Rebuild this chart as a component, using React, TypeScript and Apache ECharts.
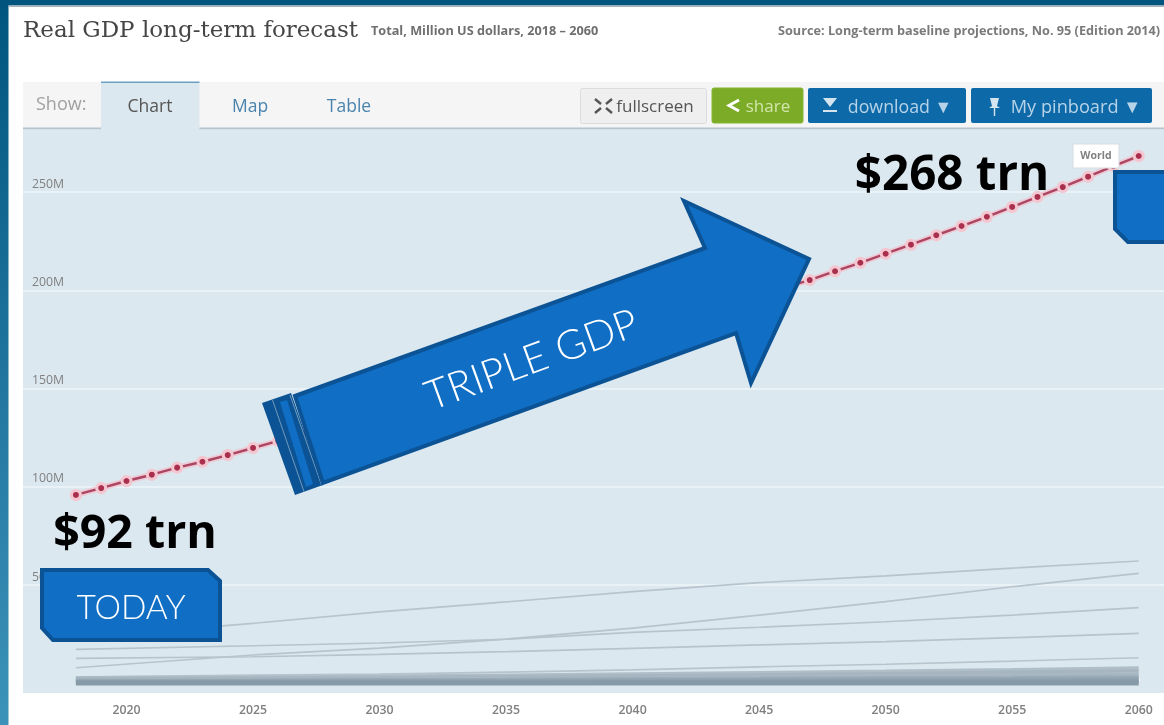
import React, { useEffect, useRef } from "react";
import * as echarts from "echarts";

const worldYears = [2018,2019,2020,2021,2022,2023,2024,2025,2026,2027,2028,2029,2030,2031,2032,2033,2034,2035,2036,2037,2038,2039,2040,2041,2042,2043,2044,2045,2046,2047,2048,2049,2050,2051,2052,2053,2054,2055,2056,2057,2058,2059,2060];
const worldValues = [95.9,99.4,103,106.2,109.8,112.8,116.2,119.8,123.4,127.1,130.8,134.6,138.4,142.2,146.1,150,153.9,157.9,161.9,165.9,169.9,173.9,178,182,186,190,194,197.8,201.5,205.2,209.7,214,218.6,223.2,228,232.7,237.4,242.4,247.5,252.5,257.8,263.2,268.3];

const otherYears = [2018,2025,2030,2035,2040,2045,2050,2055,2060];
const lineA = [23.2,30.6,36.4,41.5,46.7,51.3,54.7,58.7,62.3];
const lineB = [8,14.5,18,22.6,28.2,34.8,41.6,49.2,56];
const lineC = [17.4,19.2,20.6,22.5,26,28.6,31.4,34.8,38.6];
const lineD = [12.8,13.6,14.8,16.2,17.9,19.6,21.3,23.3,25.5];
const lineE = [3.3,4.3,4.8,5.8,6.9,8.5,9.8,11.4,13.1];
const bandA = [2.9,3.3,3.7,4.2,4.8,5.5,6.2,7,7.9];
const bandB = [2.4,2.7,3,3.4,3.9,4.4,5,5.7,6.4];
const bandC = [1.9,2.1,2.4,2.7,3,3.4,3.8,4.3,4.8];
const bandD = [1.5,1.7,1.9,2,2.3,2.5,2.8,3,3.3];
const bandE = [1.1,1.2,1.3,1.4,1.6,1.7,1.9,2.1,2.3];
const bandF = [0.7,0.7,0.8,0.8,0.9,1,1.1,1.2,1.3];
const bandG = [0.2,0.2,0.2,0.2,0.3,0.3,0.3,0.3,0.3];

const pairs = (xs: number[], ys: number[]) => xs.map((x, i) => [x, ys[i]]);
const FONT = '"Open Sans", sans-serif';
const FILL = "#106ec4";
const EDGE = "#0b5394";

const text = (t: string, x: number, y: number, font: string, fill: string, align = "left", z = 30, rotation = 0) => ({
  type: "text", x, y, z, rotation,
  style: { text: t, x: 0, y: 0, font, fill, textAlign: align, textVerticalAlign: "middle" },
});
const rect = (x: number, y: number, w: number, h: number, fill: string, z = 20, stroke?: string, r = 0, lineWidth = 1) => ({
  type: "rect", z, shape: { x, y, width: w, height: h, r },
  style: { fill, stroke, lineWidth },
});
const poly = (points: number[][], fill: string, z = 40, stroke?: string, lineWidth = 1) => ({
  type: "polygon", z, shape: { points }, style: { fill, stroke, lineWidth, lineJoin: "miter" },
});
const ln = (a: number[], b: number[], stroke: string, z = 41, lineWidth = 1) => ({
  type: "line", z, shape: { x1: a[0], y1: a[1], x2: b[0], y2: b[1] }, style: { stroke, lineWidth },
});

const thinSeries = [lineA, lineB, lineC, lineD, lineE].map((d) => ({
  type: "line", data: pairs(otherYears, d), showSymbol: false, symbol: "none", clip: false, z: 3,
  lineStyle: { color: "#b7c4cd", width: 1.7 },
}));
const bandColors = ["#b0bec8", "#a6b5c0", "#a8b7c2", "#99abb7", "#90a3b0", "#8a9dab", "#879aa8"];
const bandSeries = [bandA, bandB, bandC, bandD, bandE, bandF, bandG].map((d, i) => ({
  type: "line", data: pairs(otherYears, d), showSymbol: false, symbol: "none", clip: false, z: 4,
  lineStyle: { color: bandColors[i], width: i === 6 ? 5 : 3.4, cap: "butt" },
}));

export default function App() {
  const ref = useRef<HTMLDivElement>(null);
  useEffect(() => {
    document.body.style.margin = "0";
    const chart = echarts.init(ref.current!, null, { renderer: "svg" });
    const graphic: any[] = [
      rect(0, 0, 1164, 725, "#ffffff", -20),
      rect(23, 130, 1141, 563, "#dce8ef", -10),
      rect(8, 130, 15, 595, "#ffffff", 1),
      rect(23, 681.5, 1141, 4, "#dce8ef", 1),
      {
        type: "rect", z: 60, shape: { x: 0, y: 0, width: 8.5, height: 725 },
        style: { fill: new echarts.graphic.LinearGradient(0, 0, 0, 1, [
          { offset: 0, color: "#00557f" }, { offset: 1, color: "#3c93ba" },
        ]) },
      },
      rect(0, 0, 1164, 5.5, "#00557f", 61),
      rect(8.5, 5.5, 1156, 1.5, "#a9b4ba", 61),
      text("Real GDP long-term forecast", 23, 29, '23px "DejaVu Serif", serif', "#454545"),
      text("Total, Million US dollars, 2018 – 2060", 371, 30, `bold 12.7px ${FONT}`, "#6f6f6f"),
      text("Source: Long-term baseline projections, No. 95 (Edition 2014)", 778, 30, `bold 12.7px ${FONT}`, "#7a7a7a"),
      rect(23, 82, 1141, 46, "#f5f5f5", 10),
      rect(23, 127.5, 1141, 2, "#b4c4cf", 11),
      rect(101, 82, 98.5, 48, "#dce8ef", 12),
      rect(101, 81.5, 98.5, 1.6, "#6fa0bf", 13),
      text("Show:", 36, 103, `18px ${FONT}`, "#a0a0a0"),
      text("Chart", 150, 105, `17.5px ${FONT}`, "#555555", "center"),
      text("Map", 250, 105, `17.5px ${FONT}`, "#4a84ad", "center"),
      text("Table", 349, 105, `17.5px ${FONT}`, "#4a84ad", "center"),
      rect(580.5, 88.5, 126, 35, "#efefef", 20, "#dcdcdc", 2),
      ln([595, 99], [601, 104], "#555555", 21, 2.4), ln([612, 99], [606, 104], "#555555", 21, 2.4),
      ln([595, 113], [601, 108], "#555555", 21, 2.4), ln([612, 113], [606, 108], "#555555", 21, 2.4),
      text("fullscreen", 655, 105.5, `17px ${FONT}`, "#555555", "center", 21),
      rect(712, 88, 91, 35, "#7cab27", 20, "#86b530", 2),
      { type: "polyline", z: 21, shape: { points: [[739, 100], [729, 105.5], [739, 111]] }, style: { stroke: "#ffffff", lineWidth: 3, fill: "none" } },
      text("share", 768, 105.5, `17px ${FONT}`, "#d2e6ac", "center", 21),
      rect(808, 88, 158, 35, "#0e69a8", 20, undefined, 2),
      poly([[823, 98], [837, 98], [830, 107]], "#d5e5f0", 21),
      rect(823, 110, 14, 2, "#d5e5f0", 21),
      text("download ▼", 900, 105.5, `17.8px ${FONT}`, "#b7d3e8", "center", 21),
      rect(971, 88, 181, 35, "#0e69a8", 20, undefined, 2),
      poly([[990, 98], [999, 98], [997, 106], [1000, 108], [989, 108], [992, 106]], "#d5e5f0", 21),
      rect(993.8, 108, 1.4, 8, "#d5e5f0", 21),
      text("My pinboard ▼", 1076, 105.5, `18.2px ${FONT}`, "#b7d3e8", "center", 21),

      rect(1073, 144, 46, 24, "#ffffff", 35, "#d5dde2"),
      text("World", 1096, 155, `bold 10.5px ${FONT}`, "#808080", "center", 36),
      text("$268 trn", 952, 171, `bold 47.5px ${FONT}`, "#000000", "center", 38),
      text("$92 trn", 135, 530, `bold 46.5px ${FONT}`, "#000000", "center", 38),

      poly([[42, 570], [208, 570], [220, 581], [220, 640], [53, 640], [42, 628]], FILL, 40, EDGE, 4),
      text("TODAY", 131, 606, '300 33.5px Lato, sans-serif', "#ffffff", "center", 42),
      poly([[1115, 172], [1180, 172], [1180, 242], [1128, 242], [1115, 229]], FILL, 40, EDGE, 4),

      poly([[262, 403], [291, 393], [323, 485], [295, 495]], EDGE, 40),
      poly([[280, 402], [287, 400], [313, 484], [306, 487]], FILL, 41),
      ln([272.5, 400], [304, 491.7], "#9fb8cf", 42, 0.7),
      ln([290, 395], [321.5, 485], "#9fb8cf", 42, 0.7),
      poly([[295, 396], [705, 248], [684, 201], [809, 259], [751, 383], [736, 333], [323, 483]], FILL, 43, EDGE, 4),
      text("TRIPLE GDP", 531, 358, '300 41px Lato, sans-serif', "#ffffff", "center", 44, (20 * Math.PI) / 180),
    ];
    chart.setOption({
      animation: false,
      backgroundColor: "transparent",
      grid: { left: 0, width: 1165, top: 142.85, height: 540.65, containLabel: false },
      xAxis: {
        type: "value", min: 2015, max: 2061, interval: 5, offset: 9,
        splitLine: { show: false },
        axisLine: { show: true, lineStyle: { color: "#e4edf2", width: 1 } },
        axisTick: { show: true, inside: true, length: 5, lineStyle: { color: "#ffffff", width: 1.5 } },
        axisLabel: {
          margin: 11, color: "#808080", fontSize: 12.3, fontFamily: "Open Sans", fontWeight: 600,
          showMinLabel: false, showMaxLabel: false, formatter: (v: number) => String(v),
        },
      },
      yAxis: {
        type: "value", min: 0, max: 275, interval: 50,
        axisLine: { show: false }, axisTick: { show: false },
        splitLine: { show: true, showMinLine: false, showMaxLine: false, lineStyle: { color: "#e9f2f6", width: 2 } },
        axisLabel: {
          inside: true, margin: 32, color: "#808080", fontSize: 12.3, fontFamily: "Open Sans",
          verticalAlign: "bottom", padding: [0, 0, 3, 0], showMinLabel: false, showMaxLabel: false,
          formatter: (v: number) => `${v}M`,
        },
      },
      graphic,
      series: [
        ...thinSeries,
        ...bandSeries,
        {
          type: "line", data: pairs(worldYears, worldValues), showSymbol: false, symbol: "none", clip: false, z: 5,
          lineStyle: { color: "rgba(243,190,203,0.7)", width: 6 },
        },
        {
          name: "World", type: "line", data: pairs(worldYears, worldValues), clip: false, z: 6,
          symbol: "circle", symbolSize: 9, showSymbol: true, showAllSymbol: true,
          lineStyle: { color: "#ac4562", width: 2.4 },
          itemStyle: { color: "#a8304e", borderColor: "#f4c6d0", borderWidth: 3 },
        },
      ],
    });
    return () => chart.dispose();
  }, []);
  return <div ref={ref} style={{ position: "fixed", left: 0, top: 0, width: 1164, height: 725 }} />;
}
